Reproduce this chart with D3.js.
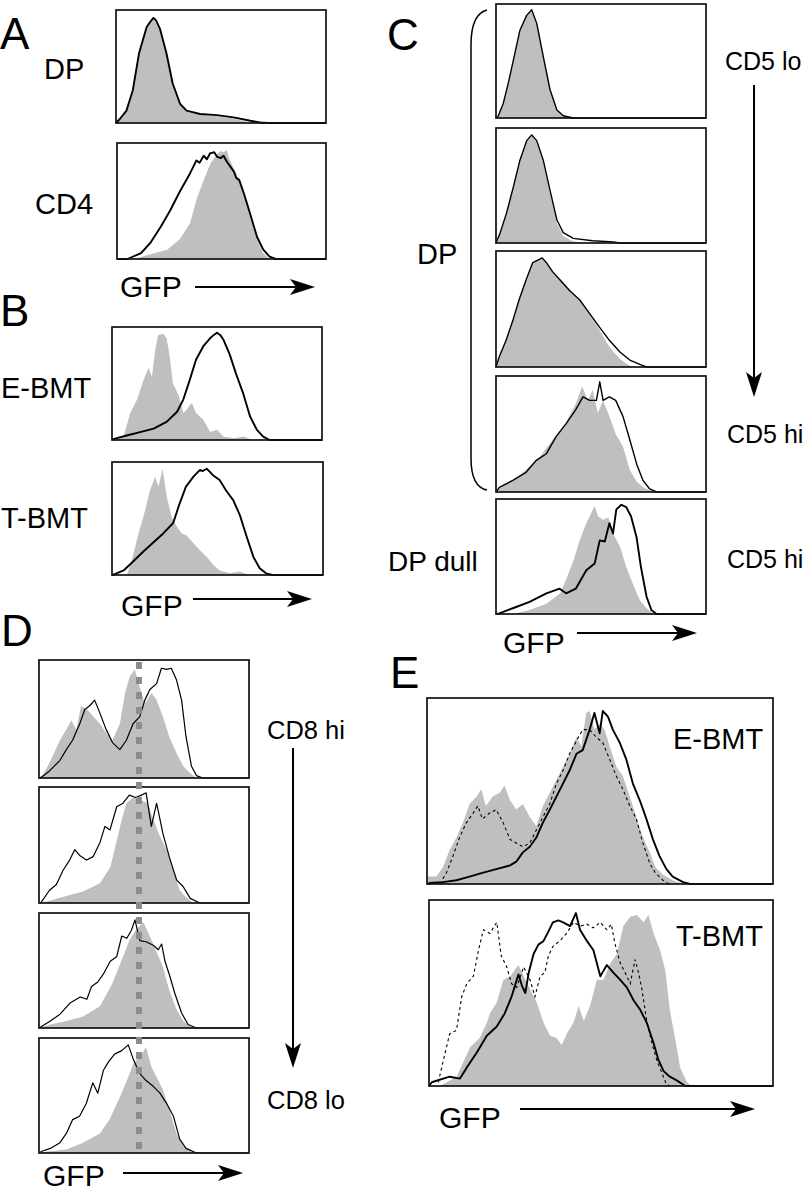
<!DOCTYPE html>
<html>
<head>
<meta charset="utf-8">
<script src="https://cdn.jsdelivr.net/npm/d3@7"></script>
<style>
  body { margin: 0; background: #fff; }
  svg text { font-family: "Liberation Sans", Arial, Helvetica, sans-serif; fill: #000; }
</style>
</head>
<body>
<div id="fig"></div>
<script>
// histogram data: [GFP (0-100 of axis), count (0-100 of box height)]
const aDpGray = [[0,0],[2,4],[5,11],[8,29],[11,62],[14.6,85],[17.8,92],[21,82],[24,62],[27,35],[30.5,16],[33.6,10],[40,7],[48,6],[56,4],[62,1],[64,0]];
const aDpLine = [[0,0],[2,4],[5,11],[8,29],[11,62],[14.6,85],[16.5,90],[17.8,93],[19,91],[21,83],[24,62],[27,35],[30.5,17],[33.6,11],[40,8],[48,7],[56,5],[64,2],[68.6,0.5],[72,0],[100,0]];
const aCd4Gray = [[8,0],[16,4],[24,8],[30,17],[35,31],[38,51],[41.5,68],[44.6,82],[47.8,90],[49.5,93],[51,92],[52.5,94],[54,85],[57.3,73],[60.5,56],[63.7,37],[67,16],[70,5],[73,0]];
const aCd4Line = [[0,0],[5,0],[11.5,5],[16,14],[21,28],[25.5,42],[30,58],[35,74],[38,85],[39.5,83],[41.5,89],[43,86],[44.5,91],[46.5,92],[48,88],[49.7,87],[51,89],[52.5,84],[54.5,79],[56,75],[57,70],[58.5,68],[60.8,56],[63.7,39],[67,19],[70,8],[73,2],[76,0],[100,0]];

const bEGray = [[1.6,0],[5.5,3],[8.7,24],[12,36],[15,53],[17.4,64],[19,56],[20.6,80],[22,93],[24.5,94],[26,90],[27.5,74],[29,50],[31.6,40],[34,24],[35.6,27],[38,33],[40,24],[43.5,18],[46.7,7],[50,9],[53,3],[58,1.5],[62.5,3],[67,0]];
const bELine = [[0,0],[1,1],[7,4],[13.4,7],[19.8,10],[26,16],[31,25],[34,36],[37,53],[40,71],[43.5,83],[46.7,90],[48.5,93],[50,95],[51.5,93],[53,89],[56,76],[59,59],[62.5,41],[65.7,21],[69,9],[72,3],[75,0],[100,0]];
const bTGray = [[7,0],[9.4,13],[12.6,37],[15.7,57],[18,75],[20.5,87],[22,78],[24,94],[26,69],[28.3,51],[30.7,43],[33,37],[35.4,35],[38.6,28],[41.7,22],[44.9,16],[48,9],[51,4],[55.9,1.5],[60.6,3],[65,0]];
const bTLine = [[0,0],[1.6,1],[5.5,4],[10,12],[15,21],[19.7,29],[24.4,37],[29,46],[32,63],[35,78],[38.6,87],[41.7,93],[43,92],[44.9,94],[46.5,91],[48,88],[51,84],[54,75],[57.5,66],[60.6,53],[63.8,34],[67,16],[70,6],[73,1.5],[76,0],[100,0]];

const c1Gray = [[0,0],[1,1.5],[3.5,13],[5.9,31],[8.3,51],[11.4,77],[14.6,90],[17,95],[19.4,83],[22.5,54],[25.7,25],[29,7],[32,2],[36.8,0]];
const c1Line = [[0,0],[1,1.5],[3.5,13],[5.9,31],[8.3,51],[11.4,77],[14.6,90],[17,95],[19.4,83],[22.5,54],[25.7,25],[29,7],[32,2],[36.8,0],[100,0]];
const c2Gray = [[0,0],[2,9],[5,26],[8.3,49],[11.4,72],[14.6,89],[17,94],[19.4,88],[22.5,70],[25.7,43],[29,17],[32,6],[36,2],[40,0]];
const c2Line = [[0,0],[2,9],[5,26],[8.3,49],[11.4,72],[14.6,89],[17,94],[19.4,89],[22.5,72],[25.7,46],[29,20],[32,9],[36.8,4],[46,2],[55.9,1],[59,0],[100,0]];
const c3Gray = [[0,0],[1.6,9],[4.8,23],[8,40],[11,58],[14.3,75],[17.5,90],[20,92],[22,94],[24,90],[27,82],[30.5,76],[35,67],[39.8,57],[44.6,45],[49,33],[53,20],[56,13],[59,7],[62,3],[65,0]];
const c3Line = [[0,0],[1.6,9],[4.8,23],[8,40],[11,58],[14.3,75],[17.5,90],[22,94],[24,90],[27,82],[30.5,75],[35,66],[39.8,58],[44.6,46],[49,35],[54,23],[59,13],[63.7,6],[68.8,2],[71.7,0],[100,0]];
const c4Gray = [[0,0],[1.6,3],[8,10],[14.3,19],[20.7,30],[27,45],[33,59],[38,76],[41,91],[43.8,79],[46,88],[48.5,68],[51,79],[54,65],[57,50],[60.5,39],[63.7,19],[67,9],[70,4],[73,1.5],[76,0]];
const c4Line = [[0,0],[1.6,4],[8,10],[14.3,17],[19,27],[24,33],[28.7,48],[33.4,59],[38,71],[41.4,82],[44.6,79],[47.8,79],[49.4,95],[51,79],[54,82],[57,79],[60.5,65],[63.7,45],[67,24],[70,10],[73,3],[76.4,0],[100,0]];
const c5Gray = [[8,0],[16,3.5],[24,9],[30.6,18],[33.8,32],[37,47],[39.8,64],[43,79],[45.4,88],[47,94],[48.6,85],[51,82],[53.5,84],[55.7,70],[59,59],[62,41],[65,27],[68.5,12],[71.7,5],[75,0]];
const c5Line = [[0,0],[1.6,0.5],[8,5],[16,10.5],[24,18],[30.3,22],[33.4,18],[38,22],[43,38],[47,44],[49.4,64],[51.8,63],[54,79],[55.7,70],[57.3,91],[59.7,95],[62,93],[64.3,85],[66.9,67],[69,41],[71.7,15],[74,3.5],[76.4,0],[100,0]];

const d1Gray = [[0,0],[2,3],[5,13],[10,32],[13,41],[15.4,49],[17.8,41],[20,61],[23,58],[26,52],[29,46],[32,38],[35,32],[38.5,46],[41,72],[43.2,86],[45.6,92],[48,77],[50.4,63],[53.6,72],[56,66],[59,52],[62,35],[65.5,21],[68.7,10],[72,4],[75,0]];
const d1Line = [[0,0],[1,0.5],[5,6],[10,15],[13,24],[16,32],[19.4,46],[21.8,58],[24,61],[26.5,66],[29,55],[32,41],[35,30],[38.5,24],[41.6,32],[44.8,46],[48,52],[50.4,66],[52.8,75],[56,80],[58.3,93],[60.7,92],[63,93],[65.5,83],[67.9,66],[70,35],[72.6,10],[75,2],[78,0],[100,0]];
const d2Gray = [[0,0],[5,2],[13,6],[21,10],[29,17],[34,31],[39,69],[41.6,86],[44.8,91],[48,89],[51.8,86],[54,74],[57,60],[60.7,46],[64,28],[67,11],[70,5],[73.5,0]];
const d2Line = [[0,0],[1,0.5],[5,11],[8.3,16],[11.4,28],[14.6,37],[17,46],[19.4,41],[22.6,37],[25.8,40],[29,52],[31.4,66],[33.8,63],[37,83],[40,86],[43,93],[46,91],[48.8,93],[51,95],[53.5,66],[56,86],[59,60],[62,40],[65.5,20],[68.7,14],[72,4],[76.6,0],[100,0]];
const d3Gray = [[0,0],[5.4,3],[13,6],[21,10],[29,19],[35,39],[40,62],[43,76],[46,85],[49.7,92],[53,79],[56,66],[59,53],[62,33],[65.5,16],[68.7,6],[72,1.5],[75,0]];
const d3Line = [[0,0],[1.4,1.5],[5.4,6],[10,12],[15,22],[19.6,27],[22.8,25],[25,36],[28,40],[30.7,47],[33.9,58],[37,62],[39.4,80],[41.8,78],[44,85],[45.7,94],[48,76],[51,75],[54.4,72],[56.8,68],[58.4,73],[60,58],[62.3,45],[64.7,30],[67.9,13],[71,3],[75,0],[100,0]];
const d4Gray = [[0,0],[5,1.5],[13,3],[21,9],[29,17],[33.5,29],[38.6,49],[42.5,66],[45,78],[48,84],[51,92],[53.5,75],[56,66],[59,55],[62,38],[65.5,17],[68.7,6],[72,1.5],[75,0]];
const d4Line = [[0,0],[1.4,1.5],[5.4,4],[10,9],[13,17],[16,29],[19.3,32],[22.5,43],[25.6,61],[28,52],[30.7,72],[33,79],[36,86],[39.4,89],[42.5,94],[45,81],[48,69],[51,63],[54.4,58],[57.6,52],[60.8,43],[64,32],[67,12],[70,4],[75,0],[100,0]];
const dMarker = 47.6; // GFP value of the dotted reference line in D

const e1Gray = [[0,4],[2.7,4],[4.6,9],[6.5,18],[8.5,25],[10.4,33],[12.3,43],[14.3,47],[15.7,51],[17,42],[19,47],[21,49],[22.4,53],[24,45],[25.8,40],[27.7,43],[29.7,36],[31.6,31],[33.5,42],[35.5,49],[37.4,56],[39.3,63],[41.2,70],[43.2,79],[44.6,74],[46,92],[47,93],[48.4,83],[49.9,86],[51.3,83],[52.8,74],[54.7,63],[56.6,58],[58.6,47],[60.5,36],[62.4,25],[64.4,17],[66,9],[68.2,5],[71,2],[74,0]];
const e1Line = [[0,0],[0.8,0.5],[4.6,1],[8.5,2],[12.3,4],[16,6],[20,8],[24,10],[25.8,12],[27.7,17],[29.7,20],[31.6,25],[33.5,33],[35.5,40],[37.4,47],[39.3,54],[41.2,61],[43.2,70],[45,72],[47,83],[48.4,92],[49.9,81],[50.8,93],[52.3,90],[53.7,83],[55.7,76],[57.6,67],[59.5,54],[61.5,45],[63.4,35],[65.3,24],[67.2,15],[69.2,8],[71,4],[74,1],[76,0],[100,0]];
const e1Dash = [[3.7,0],[5.6,6],[7.5,15],[9.4,25],[11.4,33],[13.3,38],[14.7,42],[16,35],[18,38],[20,40],[22,33],[24,24],[25.8,22],[27.7,20],[29.7,22],[31.6,29],[33.5,36],[35.5,43],[37.4,54],[39.3,61],[41.2,70],[43.2,77],[45,83],[47,83],[48.9,79],[50.8,76],[52.8,67],[54.7,58],[56.6,51],[58.6,42],[60.5,35],[62.4,22],[64.4,11],[66,6],[68.2,2],[70,0]];
const e2Gray = [[3.2,0],[8,5],[12,21],[14.8,26],[16.8,34],[17.7,39],[19.7,45],[21.6,57],[23.6,59],[26,65],[27.5,59],[29.4,52],[31.3,45],[33.3,34],[35.2,27],[37,26],[38.6,22],[40,28],[42,34],[43.5,43],[45,35],[46.8,43],[48.8,57],[50.7,57],[52.7,66],[54.6,71],[56.5,86],[58.5,91],[60.4,92],[62.4,88],[63.8,92],[65.3,82],[67.2,73],[68.7,62],[70,41],[71.6,25],[73,10],[75,2],[76.4,0]];
const e2Line = [[0,0],[0.8,2],[6,5],[9,4],[11,10],[13.9,18],[16.8,27],[19.7,32],[22,39],[24,48],[26,60],[27,54],[28,50],[29,61],[30.4,71],[31.8,76],[33.3,78],[34.7,83],[36,88],[37.6,89],[39,88],[41,86],[42.7,93],[43.9,84],[45.9,78],[47.8,73],[49.8,59],[51.7,65],[53.6,61],[55.6,57],[57.5,53],[59.5,46],[61.4,41],[63.3,34],[65.3,23],[66.7,14],[68.2,8],[70,5],[72,3],[74.5,0],[100,0]];
const e2Dash = [[2.7,2],[4.2,14],[6,28],[8,30],[9.5,48],[11,55],[12.9,59],[14.4,73],[15.8,84],[17.7,82],[19.7,88],[21,70],[22.6,64],[24,55],[25.5,53],[27.5,64],[29.4,57],[30.8,48],[32.3,59],[33.7,61],[34.7,70],[36,75],[38,78],[40,82],[42,88],[44,86],[45.9,87],[47.8,85],[49.8,88],[51.7,84],[53,87],[54,77],[55.6,66],[57,61],[58.5,55],[59.9,68],[60.9,61],[61.9,52],[63.3,35],[64.8,23],[66.2,14],[67.7,7],[69,1],[70,0]];

const W = 810, H = 1196;
const GRAY = "#bfbfbf";

const svg = d3.select("#fig").append("svg")
  .attr("width", W)
  .attr("height", H);

// panel boxes (left, top, width, height)
const panels = [
  { id: "a1", box: [116, 10, 210, 113], gray: aDpGray, line: aDpLine, lw: 1.9 },
  { id: "a2", box: [117, 143, 209, 116], gray: aCd4Gray, line: aCd4Line, lw: 1.9 },
  { id: "b1", box: [112, 327, 210, 113], gray: bEGray, line: bELine, lw: 1.9 },
  { id: "b2", box: [112, 462, 211, 113], gray: bTGray, line: bTLine, lw: 1.9 },
  { id: "c1", box: [496, 4, 210, 114], gray: c1Gray, line: c1Line, lw: 1.4 },
  { id: "c2", box: [496, 128, 210, 115], gray: c2Gray, line: c2Line, lw: 1.4 },
  { id: "c3", box: [496, 251, 210, 116], gray: c3Gray, line: c3Line, lw: 1.4 },
  { id: "c4", box: [496, 376, 210, 116], gray: c4Gray, line: c4Line, lw: 1.4 },
  { id: "c5", box: [496, 499, 210, 115], gray: c5Gray, line: c5Line, lw: 1.9 },
  { id: "d1", box: [39, 660, 210, 118], gray: d1Gray, line: d1Line, lw: 1.2 },
  { id: "d2", box: [39, 787, 210, 116], gray: d2Gray, line: d2Line, lw: 1.2 },
  { id: "d3", box: [39, 913, 210, 115], gray: d3Gray, line: d3Line, lw: 1.2 },
  { id: "d4", box: [39, 1038, 210, 115], gray: d4Gray, line: d4Line, lw: 1.2 },
  { id: "e1", box: [427, 698, 346, 186], gray: e1Gray, line: e1Line, dash: e1Dash, lw: 1.9 },
  { id: "e2", box: [429, 900, 344, 186], gray: e2Gray, line: e2Line, dash: e2Dash, lw: 1.9 }
];

const scales = {};

panels.forEach(p => {
  const [bx, by, bw, bh] = p.box;
  const x = d3.scaleLinear().domain([0, 100]).range([bx, bx + bw]);
  const y = d3.scaleLinear().domain([0, 100]).range([by + bh, by]);
  scales[p.id] = { x, y };

  const area = d3.area().x(d => x(d[0])).y0(y(0)).y1(d => y(d[1]));
  const line = d3.line().x(d => x(d[0])).y(d => y(d[1]));

  const g = svg.append("g").attr("class", "panel " + p.id);

  g.append("path")
    .datum(p.gray)
    .attr("fill", GRAY)
    .attr("d", area);

  if (p.dash) {
    g.append("path")
      .datum(p.dash)
      .attr("fill", "none")
      .attr("stroke", "#000")
      .attr("stroke-width", 1.1)
      .attr("stroke-dasharray", "3,3")
      .attr("d", line);
  }

  g.append("path")
    .datum(p.line)
    .attr("fill", "none")
    .attr("stroke", "#000")
    .attr("stroke-width", p.lw)
    .attr("stroke-linejoin", "round")
    .attr("d", line);

  g.append("rect")
    .attr("x", bx).attr("y", by)
    .attr("width", bw).attr("height", bh)
    .attr("fill", "none")
    .attr("stroke", "#111")
    .attr("stroke-width", 1.7);
});

// dotted reference line across the D panels
{
  const x = scales.d1.x;
  svg.append("line")
    .attr("x1", x(dMarker)).attr("x2", x(dMarker))
    .attr("y1", 662).attr("y2", 1153)
    .attr("stroke", "#8c8c8c")
    .attr("stroke-width", 6)
    .attr("stroke-dasharray", "7,8");
}

// arrows
function arrowH(x1, x2, y) {
  svg.append("line")
    .attr("x1", x1).attr("x2", x2 - 12).attr("y1", y).attr("y2", y)
    .attr("stroke", "#000").attr("stroke-width", 2);
  svg.append("path")
    .attr("d", `M${x2},${y} L${x2 - 25},${y - 8} L${x2 - 19},${y} L${x2 - 25},${y + 8} Z`)
    .attr("fill", "#000");
}
function arrowV(x, y1, y2) {
  svg.append("line")
    .attr("x1", x).attr("x2", x).attr("y1", y1).attr("y2", y2 - 12)
    .attr("stroke", "#000").attr("stroke-width", 2);
  svg.append("path")
    .attr("d", `M${x},${y2} L${x - 8},${y2 - 25} L${x},${y2 - 19} L${x + 8},${y2 - 25} Z`)
    .attr("fill", "#000");
}

arrowH(195, 315, 287);
arrowH(193, 312, 599);
arrowH(577, 697, 633);
arrowH(123, 243, 1173);
arrowH(520, 755, 1109);
arrowV(754, 85, 397);
arrowV(293, 748, 1068);

// bracket for DP group in C
svg.append("path")
  .attr("d", "M487,10 Q471,14 471,45 L471,458 Q471,487 487,490")
  .attr("fill", "none")
  .attr("stroke", "#000")
  .attr("stroke-width", 1.5);

// panel letters
const letters = [
  { t: "A", x: 0, y: 49 },
  { t: "B", x: 0, y: 326 },
  { t: "C", x: 387, y: 50 },
  { t: "D", x: 1, y: 646 },
  { t: "E", x: 390, y: 688 }
];
svg.selectAll("text.letter").data(letters).enter().append("text")
  .attr("class", "letter")
  .attr("x", d => d.x).attr("y", d => d.y)
  .attr("font-size", 44)
  .text(d => d.t);

// row / group labels
const labels = [
  { t: "DP", x: 44, y: 79, s: 29 },
  { t: "CD4", x: 35, y: 214, s: 29 },
  { t: "GFP", x: 120, y: 297, s: 30 },
  { t: "E-BMT", x: 1, y: 398, s: 29 },
  { t: "T-BMT", x: 1, y: 528, s: 29 },
  { t: "GFP", x: 121, y: 616, s: 30 },
  { t: "DP", x: 417, y: 264, s: 29 },
  { t: "DP dull", x: 388, y: 571, s: 28 },
  { t: "GFP", x: 503, y: 653, s: 30 },
  { t: "CD5 lo", x: 725, y: 70, s: 25 },
  { t: "CD5 hi", x: 727, y: 443, s: 25 },
  { t: "CD5 hi", x: 727, y: 568, s: 25 },
  { t: "CD8 hi", x: 267, y: 739, s: 25.5 },
  { t: "CD8 lo", x: 267, y: 1109, s: 25.5 },
  { t: "GFP", x: 43, y: 1186, s: 30 },
  { t: "E-BMT", x: 673, y: 749, s: 29 },
  { t: "T-BMT", x: 676, y: 946, s: 29 },
  { t: "GFP", x: 439, y: 1128, s: 30 }
];
svg.selectAll("text.label").data(labels).enter().append("text")
  .attr("class", "label")
  .attr("x", d => d.x).attr("y", d => d.y)
  .attr("font-size", d => d.s)
  .text(d => d.t);
</script>
</body>
</html>
